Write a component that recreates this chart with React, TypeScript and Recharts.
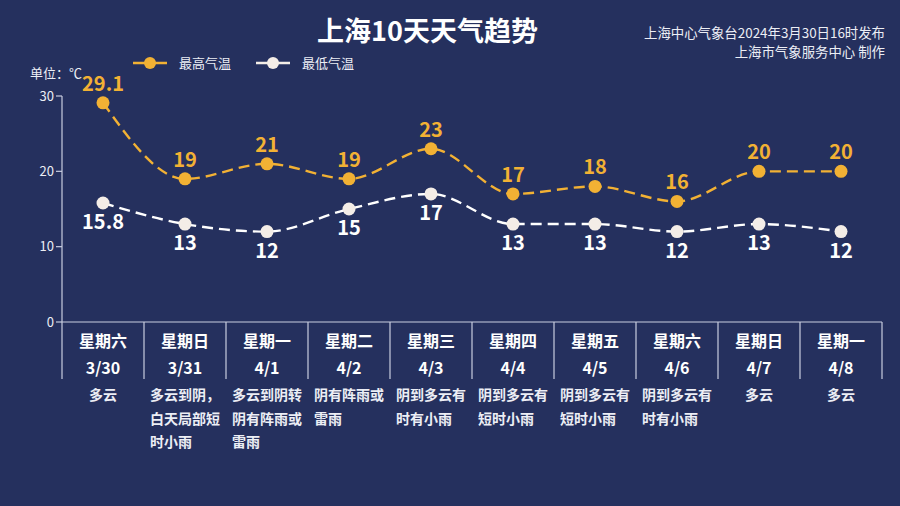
import React from "react";
import { LineChart, Line, XAxis, YAxis } from "recharts";

const weekdays = ["星期六", "星期日", "星期一", "星期二", "星期三", "星期四", "星期五", "星期六", "星期日", "星期一"];
const dates = ["3/30", "3/31", "4/1", "4/2", "4/3", "4/4", "4/5", "4/6", "4/7", "4/8"];
const highTemps = [29.1, 19, 21, 19, 23, 17, 18, 16, 20, 20];
const lowTemps = [15.8, 13, 12, 15, 17, 13, 13, 12, 13, 12];
const weatherTexts = [
  "多云",
  "多云到阴，白天局部短时小雨",
  "多云到阴转阴有阵雨或雷雨",
  "阴有阵雨或雷雨",
  "阴到多云有时有小雨",
  "阴到多云有短时小雨",
  "阴到多云有短时小雨",
  "阴到多云有时有小雨",
  "多云",
  "多云",
];
const yTicks = [0, 10, 20, 30];
const seriesNames = ["最高气温", "最低气温"];

const data = dates.map((d, i) => ({
  date: d,
  high: highTemps[i],
  low: lowTemps[i],
}));

const BG = "#25305e";
const ORANGE = "#f2b134";
const WHITE_DOT = "#f4ede7";
const LINE_GRAY = "#c9cde0";
const TEXT = "#eceef5";
const FONT = "'Noto Sans CJK SC', 'Noto Sans', sans-serif";

const wrap = (s: string, n: number) => {
  const chars = Array.from(s);
  const out: string[] = [];
  for (let i = 0; i < chars.length; i += n) out.push(chars.slice(i, i + n).join(""));
  return out;
};

const CategoryTick = (props: any) => {
  const { x, y, payload, index } = props;
  const i = index ?? payload.index;
  const half = 41;
  const lines = wrap(weatherTexts[i], 5);
  const fs = 14;
  const blockW = Math.max(...lines.map((l) => Array.from(l).length)) * fs;
  const multi = lines.length > 1;
  const left = x - blockW / 2;
  return (
    <g>
      <line x1={x - half} x2={x - half} y1={y} y2={y + 57} stroke={LINE_GRAY} strokeWidth={1.2} />
      {i === dates.length - 1 && (
        <line x1={x + half} x2={x + half} y1={y} y2={y + 57} stroke={LINE_GRAY} strokeWidth={1.2} />
      )}
      <text x={x} y={y + 25} textAnchor="middle" fill="#ffffff" fontSize={16} fontWeight="bold" fontFamily={FONT}>
        {weekdays[i]}
      </text>
      <text x={x} y={y + 52} textAnchor="middle" fill="#ffffff" fontSize={16} fontWeight="bold" fontFamily={FONT}>
        {dates[i]}
      </text>
      {lines.map((l, k) => (
        <text
          key={k}
          x={multi ? left : x}
          y={y + 78 + k * 23.5}
          textAnchor={multi ? "start" : "middle"}
          fill={TEXT}
          fontSize={fs}
          fontWeight="bold"
          fontFamily={FONT}
        >
          {l}
        </text>
      ))}
    </g>
  );
};

const highLabel = (props: any) => {
  const { x, y, value } = props;
  return (
    <text x={x} y={y - 12} textAnchor="middle" fill={ORANGE} fontSize={20} fontWeight="bold" fontFamily={FONT}>
      {String(value)}
    </text>
  );
};

const lowLabel = (props: any) => {
  const { x, y, value } = props;
  return (
    <text x={x} y={y + 26} textAnchor="middle" fill="#ffffff" fontSize={20} fontWeight="bold" fontFamily={FONT}>
      {String(value)}
    </text>
  );
};

const LegendBox = () => {
  const item = (color: string, label: string) => (
    <div style={{ display: "flex", alignItems: "center", marginRight: 25 }}>
      <svg width={34} height={14}>
        <line x1={0} x2={34} y1={7} y2={7} stroke={color} strokeWidth={2.5} />
        <circle cx={17} cy={7} r={6} fill={color} />
      </svg>
      <span style={{ color: TEXT, fontSize: 13, marginLeft: 12, fontFamily: FONT }}>{label}</span>
    </div>
  );
  return (
    <div style={{ position: "absolute", left: 133, top: 54, display: "flex", lineHeight: "18px" }}>
      {item(ORANGE, seriesNames[0])}
      {item(WHITE_DOT, seriesNames[1])}
    </div>
  );
};

export default function App() {
  return (
    <div
      style={{
        position: "absolute",
        left: 0,
        top: 0,
        width: 900,
        height: 506,
        background: BG,
        fontFamily: FONT,
        overflow: "hidden",
      }}
    >
      <div
        style={{
          position: "absolute",
          left: 0,
          width: 855,
          top: 11,
          textAlign: "center",
          color: "#ffffff",
          fontSize: 27,
          fontWeight: "bold",
          lineHeight: "38px",
        }}
      >
        上海10天天气趋势
      </div>
      <div
        style={{
          position: "absolute",
          right: 15,
          top: 23,
          textAlign: "right",
          color: TEXT,
          fontSize: 13.4,
          lineHeight: "19px",
        }}
      >
        <div>上海中心气象台2024年3月30日16时发布</div>
        <div>上海市气象服务中心 制作</div>
      </div>
      <div
        style={{
          position: "absolute",
          left: 30,
          top: 64,
          color: TEXT,
          fontSize: 13,
          lineHeight: "18px",
        }}
      >
        单位：℃
      </div>
      <LegendBox />
      <div style={{ position: "absolute", left: 0, top: 0 }}>
        <LineChart
          width={900}
          height={506}
          data={data}
          margin={{ top: 96, right: 18, bottom: 0, left: 0 }}
        >
          <XAxis
            dataKey="date"
            padding={{ left: 41, right: 41 }}
            axisLine={{ stroke: LINE_GRAY, strokeWidth: 1.2 }}
            tickLine={false}
            tickSize={0}
            tickMargin={0}
            tick={<CategoryTick />}
            interval={0}
            height={184}
          />
          <YAxis
            domain={[0, 30]}
            ticks={yTicks}
            axisLine={{ stroke: LINE_GRAY, strokeWidth: 1.2 }}
            tickLine={{ stroke: LINE_GRAY, strokeWidth: 1.2 }}
            tickSize={6}
            tick={{ fill: TEXT, fontSize: 13, fontFamily: FONT }}
            width={62}
          />
          <Line
            type="monotone"
            dataKey="high"
            name={seriesNames[0]}
            stroke={ORANGE}
            strokeWidth={2.4}
            strokeDasharray="11 6"
            dot={{ r: 6.5, fill: ORANGE, stroke: "none", strokeDasharray: "0" }}
            activeDot={false}
            label={highLabel}
            isAnimationActive={false}
          />
          <Line
            type="monotone"
            dataKey="low"
            name={seriesNames[1]}
            stroke="#ffffff"
            strokeWidth={2.4}
            strokeDasharray="11 6"
            dot={{ r: 6.5, fill: WHITE_DOT, stroke: "none", strokeDasharray: "0" }}
            activeDot={false}
            label={lowLabel}
            isAnimationActive={false}
          />
        </LineChart>
      </div>
    </div>
  );
}
